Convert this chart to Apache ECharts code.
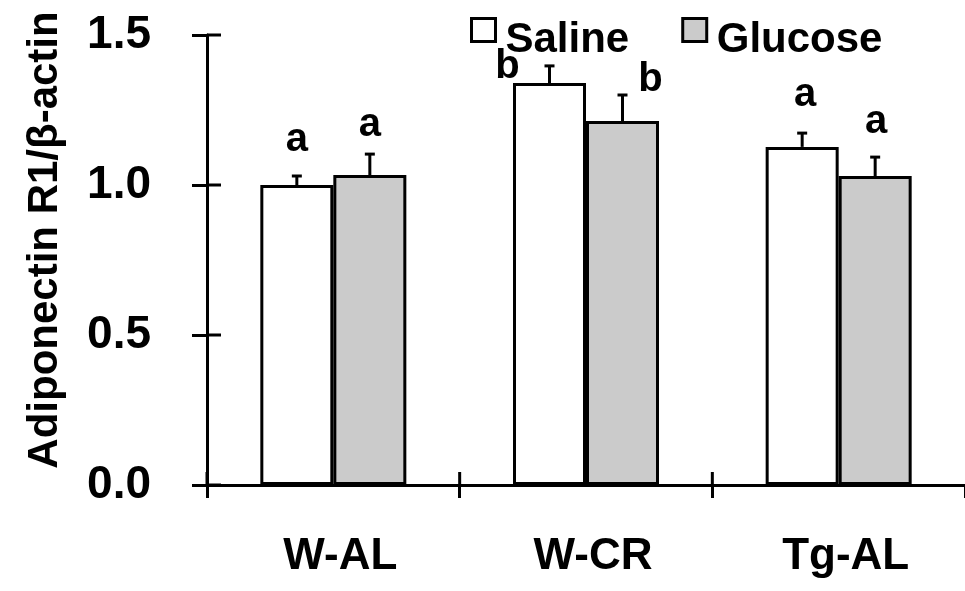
<!DOCTYPE html>
<html>
<head>
<meta charset="utf-8">
<script src="https://cdn.jsdelivr.net/npm/echarts@6/dist/echarts.min.js"></script>
<style>
  html, body { margin: 0; padding: 0; background: #fff; }
  #chart { width: 965px; height: 591px; }
</style>
</head>
<body>
<div id="chart"></div>
<script>
const groups = ['W-AL', 'W-CR', 'Tg-AL'];
const salineMean = [1.00, 1.34, 1.127];
const salineErr = [0.03, 0.057, 0.046];
const glucoseMean = [1.033, 1.213, 1.03];
const glucoseErr = [0.07, 0.087, 0.063];
const salineLetters = ['a', 'b', 'a'];
const glucoseLetters = ['a', 'b', 'a'];
const yTicks = [0, 0.5, 1.0, 1.5];

// label nudges in px [dx, dy] relative to the top of the error bar
const salineNudge = [[0, -16], [-42, 21], [3, -18]];
const glucoseNudge = [[0, -9], [28, 5], [1, -15]];

const FONT = '"Liberation Sans", Arial, sans-serif';
const BAR_W = 73;

const chart = echarts.init(document.getElementById('chart'));

function errItems(mean, err) {
	return mean.map((m, i) => [i, m, err[i]]);
}

function errorBar(shift) {
	return function (params, api) {
		const c = api.value(0);
		const base = api.coord([c, api.value(1)]);
		const top = api.coord([c, api.value(1) + api.value(2)]);
		const x = base[0] + shift;
		const st = { stroke: '#000', lineWidth: 3 };
		return {
			type: 'group',
			children: [
				{ type: 'line', shape: { x1: x, y1: base[1], x2: x, y2: top[1] }, style: st },
				{ type: 'line', shape: { x1: x - 5, y1: top[1], x2: x + 5, y2: top[1] }, style: st },
			]
		};
	};
}

function letterLabel(shift, letters, nudge) {
	return function (params, api) {
		const i = params.dataIndex;
		const c = api.value(0);
		const top = api.coord([c, api.value(1) + api.value(2)]);
		return {
			type: 'text',
			x: top[0] + shift + nudge[i][0],
			y: top[1] + nudge[i][1],
			style: {
				text: letters[i],
				fill: '#000',
				font: 'bold 40px ' + FONT,
				align: 'center',
				verticalAlign: 'bottom',
			}
		};
	};
}

// inner halves of the crossing ticks, drawn like the error bars (group of lines)
function innerYTick(params, api) {
	const p = api.coord([api.value(0), api.value(1)]);
	const x0 = p[0] - api.size([1, 0])[0] / 2;
	return {
		type: 'group',
		children: [
			{ type: 'line', shape: { x1: x0, y1: p[1], x2: x0 + 14, y2: p[1] }, style: { stroke: '#000', lineWidth: 3 } },
		]
	};
}

function innerXTick(params, api) {
	const p = api.coord([api.value(0), api.value(1)]);
	const x = p[0] - api.size([1, 0])[0] / 2;
	return {
		type: 'group',
		children: [
			{ type: 'line', shape: { x1: x, y1: p[1], x2: x, y2: p[1] - 13 }, style: { stroke: '#000', lineWidth: 3 } },
		]
	};
}

const axisText = { color: '#000', fontFamily: FONT, fontWeight: 'bold' };
const blackLine = { color: '#000', width: 3 };

chart.setOption({
	animation: false,
	backgroundColor: '#fff',
	grid: { left: 207, top: 35, width: 762, height: 450 },
	legend: {
		left: 470,
		top: 17,
		padding: 0,
		itemGap: 52,
		icon: 'rect',
		itemWidth: 24,
		itemHeight: 23,
		formatter: name => '{t|' + name + '}',
		textStyle: {
			...axisText,
			fontSize: 42,
			rich: { t: { ...axisText, fontSize: 42, padding: [20, 0, 0, 5] } },
		},
		data: [
			{ name: 'Saline', itemStyle: { color: '#fff', borderColor: '#000', borderWidth: 3 } },
			{ name: 'Glucose', itemStyle: { color: '#cbcbcb', borderColor: '#000', borderWidth: 3 } },
		],
	},
	xAxis: {
		type: 'category',
		data: groups,
		boundaryGap: true,
		axisLine: { lineStyle: blackLine },
		axisTick: { show: true, length: 13, lineStyle: blackLine },
		axisLabel: { ...axisText, fontSize: 44, margin: 50, padding: [0, 0, 0, 14] },
	},
	yAxis: {
		type: 'value',
		min: yTicks[0],
		max: yTicks[yTicks.length - 1],
		interval: 0.5,
		splitLine: { show: false },
		axisLine: { show: true, lineStyle: blackLine },
		axisTick: { show: true, length: 15, lineStyle: blackLine },
		axisLabel: { ...axisText, fontSize: 46, margin: 56, formatter: v => v.toFixed(1) },
		name: 'Adiponectin R1/β-actin',
		nameLocation: 'middle',
		nameGap: 141,
		nameTextStyle: { ...axisText, fontSize: 42, padding: [0, 0, 0, 40] },
	},
	series: [
		{
			name: 'Saline',
			type: 'bar',
			barWidth: BAR_W,
			barGap: '0%',
			data: salineMean,
			itemStyle: { color: '#fff', borderColor: '#000', borderWidth: 3 },
		},
		{
			name: 'Glucose',
			type: 'bar',
			barWidth: BAR_W,
			barGap: '0%',
			data: glucoseMean,
			itemStyle: { color: '#cbcbcb', borderColor: '#000', borderWidth: 3 },
		},
		{
			type: 'custom',
			z: 5,
			renderItem: errorBar(-BAR_W / 2),
			data: errItems(salineMean, salineErr),
		},
		{
			type: 'custom',
			z: 5,
			renderItem: errorBar(BAR_W / 2),
			data: errItems(glucoseMean, glucoseErr),
		},
		{
			type: 'custom',
			z: 6,
			renderItem: letterLabel(-BAR_W / 2, salineLetters, salineNudge),
			data: errItems(salineMean, salineErr),
		},
		{
			type: 'custom',
			z: 6,
			renderItem: letterLabel(BAR_W / 2, glucoseLetters, glucoseNudge),
			data: errItems(glucoseMean, glucoseErr),
		},
		{
			type: 'custom',
			z: 5,
			renderItem: innerYTick,
			data: yTicks.map(v => [0, v, 0]),
		},
		{
			type: 'custom',
			z: 5,
			renderItem: innerXTick,
			data: groups.map((g, i) => [i, yTicks[0], 0]),
		},
	],
});
</script>
</body>
</html>
